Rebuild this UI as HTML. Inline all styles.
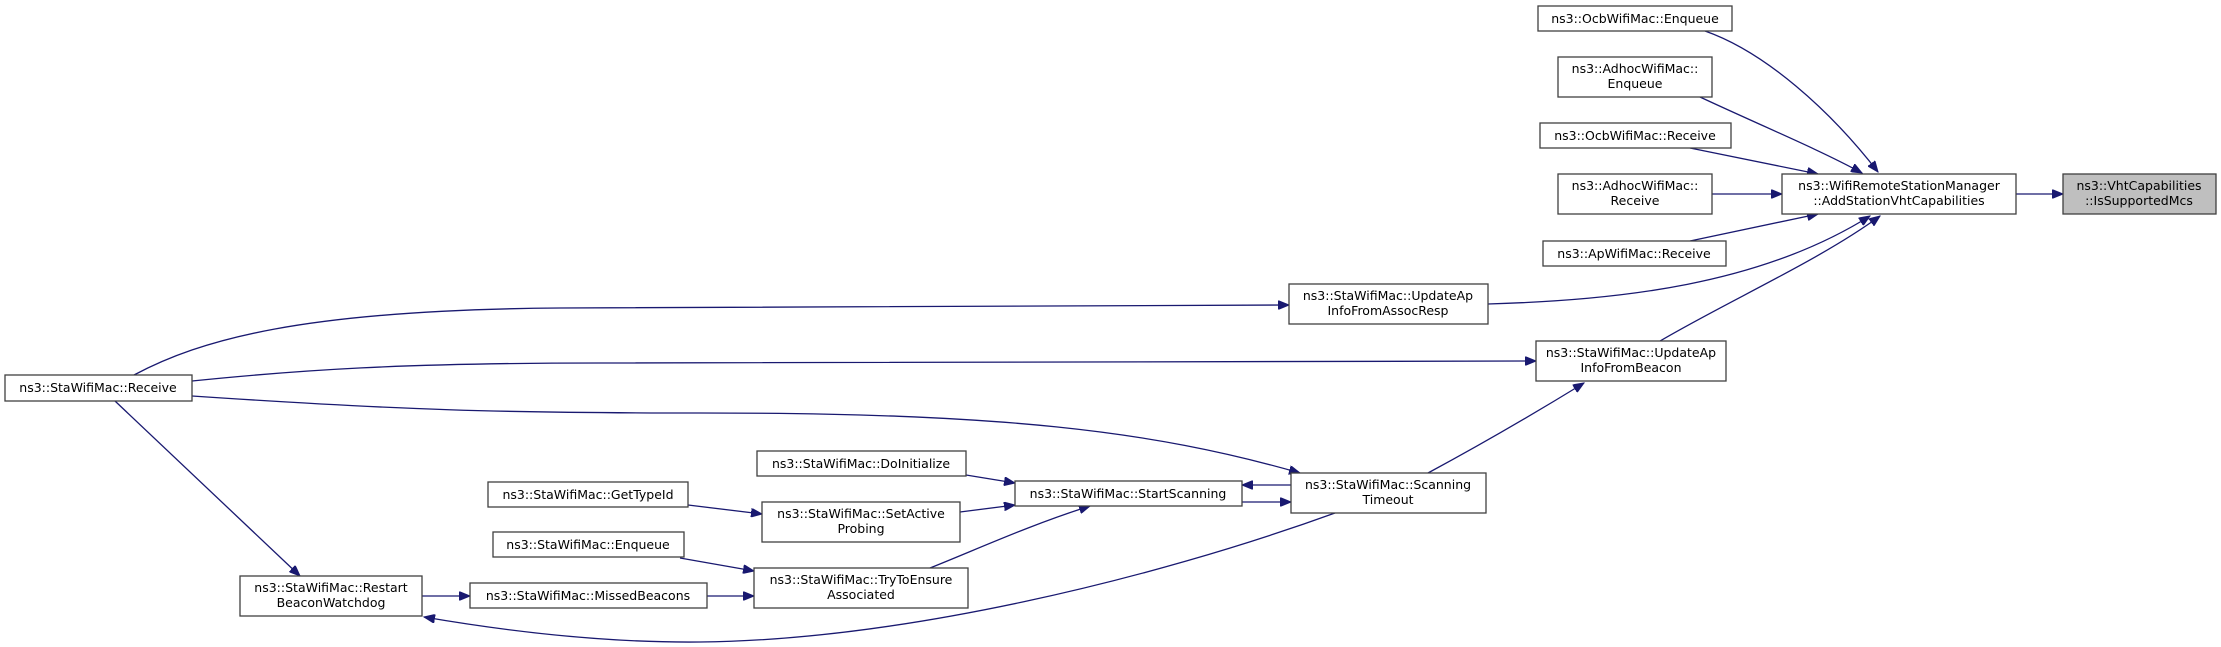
<!DOCTYPE html>
<html><head><meta charset="utf-8"><style>
html,body{margin:0;padding:0;background:#fff;}
svg{display:block;}
text{font-family:"DejaVu Sans","Liberation Sans",sans-serif;font-size:12.5px;fill:#000;text-anchor:middle;}
.n{fill:#fff;stroke:#404040;stroke-width:1.3;}
.e{fill:none;stroke:#191970;stroke-width:1.3;marker-end:url(#a);}
</style></head><body>
<svg width="2221" height="647" viewBox="0 0 2221 647" xmlns="http://www.w3.org/2000/svg">
<defs><marker id="a" markerUnits="userSpaceOnUse" markerWidth="12" markerHeight="9" refX="11" refY="4.5" orient="auto"><path d="M0,0 L11,4.5 L0,9 z" fill="#191970" stroke="#191970"/></marker></defs>

<path class="e" d="M2016,194 L2063,194"/>
<path class="e" d="M1705,31 C1765,52 1830,110 1878,172"/>
<path class="e" d="M1700,97 C1760,125 1820,150 1862,173"/>
<path class="e" d="M1690,148 L1818,174"/>
<path class="e" d="M1712,194 L1782,194"/>
<path class="e" d="M1690,241 L1818,214"/>
<path class="e" d="M1488,304 C1620,300 1760,285 1870,216"/>
<path class="e" d="M1660,341 C1730,300 1820,260 1880,216"/>
<path class="e" d="M134,375 C200,340 300,310 560,308 L1289,305"/>
<path class="e" d="M192,381 C300,370 400,363 600,363 L1536,361"/>
<path class="e" d="M192,396 C400,410 500,413 700,413 C1000,413 1150,430 1300,473"/>
<path class="e" d="M115,401 L300,576"/>
<path class="e" d="M1428,473 C1480,445 1540,410 1584,383"/>
<path class="e" d="M422,596 L470,596"/>
<path class="e" d="M1335,513 C1150,580 900,640 700,642 C600,643 500,630 424,617"/>
<path class="e" d="M707,596 L754,596"/>
<path class="e" d="M680,558 L754,571"/>
<path class="e" d="M688,505 L762,514"/>
<path class="e" d="M966,475 L1015,483"/>
<path class="e" d="M960,512 L1015,505"/>
<path class="e" d="M930,568 C980,548 1030,525 1090,506"/>
<path class="e" d="M1291,485 L1242,485"/>
<path class="e" d="M1242,502 L1291,502"/>

<rect class="n" x="1538" y="6" width="194" height="25"/><text x="1635" y="23">ns3::OcbWifiMac::Enqueue</text>
<rect class="n" x="1558" y="57" width="154" height="40"/><text x="1635" y="73">ns3::AdhocWifiMac::</text><text x="1635" y="88">Enqueue</text>
<rect class="n" x="1540" y="123" width="191" height="25"/><text x="1635" y="140">ns3::OcbWifiMac::Receive</text>
<rect class="n" x="1558" y="174" width="154" height="40"/><text x="1635" y="190">ns3::AdhocWifiMac::</text><text x="1635" y="205">Receive</text>
<rect class="n" x="1543" y="241" width="183" height="25"/><text x="1634" y="258">ns3::ApWifiMac::Receive</text>
<rect class="n" x="1782" y="174" width="234" height="40"/><text x="1899" y="190">ns3::WifiRemoteStationManager</text><text x="1899" y="205">::AddStationVhtCapabilities</text>
<rect x="2063" y="174" width="153" height="40" fill="#bfbfbf" stroke="#404040" stroke-width="1.3"/><text x="2139" y="190">ns3::VhtCapabilities</text><text x="2139" y="205">::IsSupportedMcs</text>
<rect class="n" x="1289" y="284" width="199" height="40"/><text x="1388" y="300">ns3::StaWifiMac::UpdateAp</text><text x="1388" y="315">InfoFromAssocResp</text>
<rect class="n" x="1536" y="341" width="190" height="40"/><text x="1631" y="357">ns3::StaWifiMac::UpdateAp</text><text x="1631" y="372">InfoFromBeacon</text>
<rect class="n" x="5" y="375" width="187" height="26"/><text x="98" y="392">ns3::StaWifiMac::Receive</text>
<rect class="n" x="240" y="576" width="182" height="40"/><text x="331" y="592">ns3::StaWifiMac::Restart</text><text x="331" y="607">BeaconWatchdog</text>
<rect class="n" x="470" y="583" width="237" height="25"/><text x="588" y="600">ns3::StaWifiMac::MissedBeacons</text>
<rect class="n" x="493" y="532" width="191" height="25"/><text x="588" y="549">ns3::StaWifiMac::Enqueue</text>
<rect class="n" x="488" y="482" width="200" height="25"/><text x="588" y="499">ns3::StaWifiMac::GetTypeId</text>
<rect class="n" x="757" y="451" width="209" height="25"/><text x="861" y="468">ns3::StaWifiMac::DoInitialize</text>
<rect class="n" x="762" y="502" width="198" height="40"/><text x="861" y="518">ns3::StaWifiMac::SetActive</text><text x="861" y="533">Probing</text>
<rect class="n" x="754" y="568" width="214" height="40"/><text x="861" y="584">ns3::StaWifiMac::TryToEnsure</text><text x="861" y="599">Associated</text>
<rect class="n" x="1015" y="481" width="227" height="25"/><text x="1128" y="498">ns3::StaWifiMac::StartScanning</text>
<rect class="n" x="1291" y="473" width="195" height="40"/><text x="1388" y="489">ns3::StaWifiMac::Scanning</text><text x="1388" y="504">Timeout</text>
</svg>
</body></html>
